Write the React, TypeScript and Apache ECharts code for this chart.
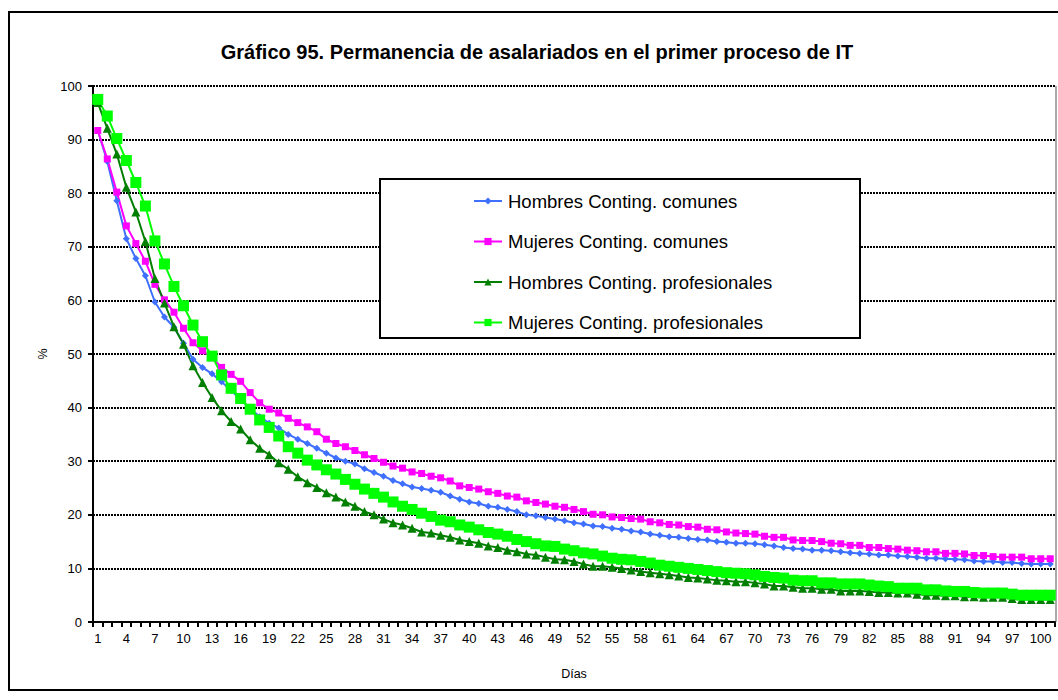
import React, { useEffect, useRef } from "react";
import * as echarts from "echarts";

const days: string[] = Array.from({ length: 101 }, (_, i) => String(i + 1));

const hombresComunes = [
  91.7, 85.9, 78.6, 71.5, 67.8, 64.6, 59.7, 56.9, 55.0, 52.0,
  49.0, 47.5, 46.3, 44.8, 43.2, 41.5, 39.8, 38.3, 37.1, 36.2,
  35.0, 34.1, 33.3, 32.4, 31.5, 30.6, 30.0, 29.5, 28.6, 27.9,
  27.2, 26.4, 25.8, 25.2, 24.9, 24.6, 24.2, 23.5, 22.9, 22.4,
  22.1, 21.6, 21.4, 21.0, 20.6, 20.0, 19.8, 19.5, 19.2, 18.9,
  18.5, 18.3, 17.9, 17.8, 17.5, 17.3, 17.0, 16.8, 16.4, 16.2,
  15.9, 15.8, 15.6, 15.4, 15.3, 15.0, 14.9, 14.7, 14.7, 14.6,
  14.4, 14.2, 13.9, 13.7, 13.6, 13.4, 13.4, 13.3, 13.1, 12.9,
  12.8, 12.7, 12.5, 12.5, 12.3, 12.2, 12.1, 11.9, 11.9, 11.8,
  11.7, 11.6, 11.4, 11.3, 11.3, 11.1, 11.1, 10.9, 10.8, 10.8,
  10.8,
];

const mujeresComunes = [
  91.7, 86.4, 80.2, 73.9, 70.6, 67.3, 63.0, 60.1, 57.8, 54.8,
  52.1, 50.6, 49.3, 47.5, 46.2, 44.9, 42.8, 40.9, 39.7, 39.0,
  38.0, 37.2, 36.4, 35.5, 34.1, 33.3, 32.7, 32.0, 31.2, 30.5,
  29.8, 29.1, 28.7, 28.0, 27.7, 27.2, 26.9, 26.3, 25.4, 25.1,
  24.8, 24.3, 24.0, 23.5, 23.3, 22.6, 22.3, 22.0, 21.6, 21.4,
  21.0, 20.6, 20.1, 20.0, 19.6, 19.5, 19.3, 19.2, 18.7, 18.5,
  18.2, 18.1, 17.8, 17.7, 17.3, 17.2, 16.8, 16.6, 16.5, 16.4,
  16.0, 15.8, 15.8, 15.3, 15.2, 15.2, 15.0, 14.7, 14.6, 14.3,
  14.3, 13.9, 13.9, 13.7, 13.6, 13.4, 13.3, 13.1, 13.1, 12.8,
  12.8, 12.7, 12.4, 12.4, 12.2, 12.1, 12.1, 12.1, 11.8, 11.8,
  11.8,
];

const hombresProfesionales = [
  96.9, 92.1, 87.3, 81.1, 76.5, 71.0, 64.1, 59.5, 55.1, 51.8,
  47.8, 44.7, 41.9, 39.4, 37.4, 36.0, 34.0, 32.4, 31.2, 29.7,
  28.5, 27.1, 26.0, 25.1, 24.1, 23.3, 22.4, 21.6, 20.6, 20.0,
  19.2, 18.5, 18.1, 17.5, 16.8, 16.6, 16.2, 15.8, 15.3, 15.0,
  14.7, 14.2, 13.9, 13.4, 13.1, 12.7, 12.5, 12.1, 11.7, 11.6,
  11.3, 10.8, 10.4, 10.4, 10.2, 10.0, 9.7, 9.4, 9.2, 9.0,
  8.8, 8.6, 8.3, 8.2, 8.0, 7.8, 7.7, 7.5, 7.5, 7.3,
  7.1, 6.7, 6.7, 6.5, 6.3, 6.3, 6.1, 6.1, 5.8, 5.8,
  5.8, 5.7, 5.5, 5.5, 5.4, 5.4, 5.2, 5.0, 5.0, 4.9,
  4.9, 4.7, 4.7, 4.6, 4.6, 4.6, 4.4, 4.2, 4.2, 4.2,
  4.2,
];

const mujeresProfesionales = [
  97.5, 94.4, 90.2, 86.1, 82.0, 77.6, 71.1, 66.8, 62.6, 59.0,
  55.4, 52.3, 49.6, 46.1, 43.6, 41.7, 39.7, 37.7, 36.3, 34.7,
  32.7, 31.5, 30.2, 29.3, 28.4, 27.6, 26.6, 25.7, 24.8, 24.0,
  23.3, 22.4, 21.6, 21.0, 20.3, 19.7, 19.0, 18.7, 18.1, 17.7,
  17.2, 16.7, 16.4, 16.0, 15.4, 15.0, 14.6, 14.2, 14.1, 13.6,
  13.3, 12.9, 12.7, 12.3, 11.9, 11.7, 11.6, 11.3, 11.0, 10.6,
  10.4, 10.2, 10.0, 9.8, 9.6, 9.4, 9.2, 9.1, 9.0, 8.8,
  8.5, 8.3, 8.2, 7.8, 7.7, 7.7, 7.3, 7.3, 7.1, 7.1,
  7.1, 6.9, 6.7, 6.6, 6.3, 6.3, 6.3, 6.0, 6.0, 5.8,
  5.7, 5.7, 5.5, 5.4, 5.4, 5.4, 5.2, 5.0, 5.0, 5.0,
  5.0,
];

const seriesNames = [
  "Hombres Conting. comunes",
  "Mujeres Conting. comunes",
  "Hombres Conting. profesionales",
  "Mujeres Conting. profesionales",
];

const FONT = "'Liberation Sans', Arial, sans-serif";

export default function App() {
  const ref = useRef<HTMLDivElement>(null);
  useEffect(() => {
    if (!ref.current) return;
    const chart = echarts.init(ref.current, undefined, { renderer: "svg" });
    const lineSeries = (name: string, data: number[], symbol: string, size: number, color: string) => ({
      name,
      type: "line",
      data,
      symbol,
      symbolSize: size,
      showAllSymbol: true,
      color,
      lineStyle: { width: 2, color },
      itemStyle: { color },
    });
    chart.setOption({
      animation: false,
      backgroundColor: "#ffffff",
      textStyle: { fontFamily: FONT },
      title: {
        text: "Gráfico 95. Permanencia de asalariados en el primer proceso de IT",
        left: 532,
        top: 37,
        textAlign: "center",
        textStyle: { fontFamily: FONT, fontSize: 20, fontWeight: "bold", color: "#000" },
      },
      graphic: [
        {
          type: "rect",
          shape: { x: 9, y: 12, width: 1070, height: 678 },
          style: { fill: "none", stroke: "#000", lineWidth: 2 },
          silent: true,
        },
        {
          type: "line",
          shape: { x1: 1056, y1: 86, x2: 1056, y2: 622 },
          style: { stroke: "#555", lineWidth: 1 },
          silent: true,
        },
        {
          type: "rect",
          shape: { x: 380, y: 179, width: 480, height: 159 },
          style: { fill: "#fff", stroke: "#000", lineWidth: 2 },
          z: 100,
          silent: true,
        },
      ],
      legend: {
        orient: "vertical",
        left: 473,
        top: 191,
        padding: 0,
        itemWidth: 28,
        itemHeight: 9,
        itemGap: 20.5,
        z: 110,
        textStyle: { fontFamily: FONT, fontSize: 18.5, lineHeight: 20, height: 20, color: "#000", padding: [0, 0, 0, 1] },
        data: seriesNames,
      },
      grid: { left: 93, top: 86, right: 3, bottom: 78 },
      xAxis: {
        type: "category",
        data: days,
        boundaryGap: true,
        name: "Días",
        nameLocation: "middle",
        nameGap: 45,
        nameTextStyle: { fontFamily: FONT, fontSize: 12.5, color: "#000" },
        axisLine: { lineStyle: { color: "#000", width: 2 } },
        axisTick: { show: true, interval: 0, length: 5, lineStyle: { color: "#000", width: 2 } },
        axisLabel: { interval: 2, fontFamily: FONT, fontSize: 13, color: "#000", margin: 10 },
        splitLine: { show: false },
      },
      yAxis: {
        type: "value",
        min: 0,
        max: 100,
        interval: 10,
        name: "%",
        nameLocation: "middle",
        nameGap: 43,
        nameRotate: 90,
        nameTextStyle: { fontFamily: FONT, fontSize: 12.5, color: "#000" },
        axisLine: { show: true, lineStyle: { color: "#000", width: 2 } },
        axisTick: { show: true, length: 5, lineStyle: { color: "#000", width: 2 } },
        axisLabel: { fontFamily: FONT, fontSize: 13, color: "#000", margin: 11 },
        splitLine: { show: true, lineStyle: { color: "#000", width: 2, type: [2, 1] } },
      },
      series: [
        lineSeries(seriesNames[0], hombresComunes, "diamond", 7, "#3F6FFF"),
        lineSeries(seriesNames[1], mujeresComunes, "rect", 7, "#FF00FF"),
        lineSeries(seriesNames[2], hombresProfesionales, "triangle", 9, "#007F00"),
        lineSeries(seriesNames[3], mujeresProfesionales, "rect", 11, "#00FF00"),
      ],
    });
    return () => chart.dispose();
  }, []);
  return (
    <div
      ref={ref}
      style={{ position: "fixed", left: 0, top: 0, width: 1058, height: 700 }}
    />
  );
}
